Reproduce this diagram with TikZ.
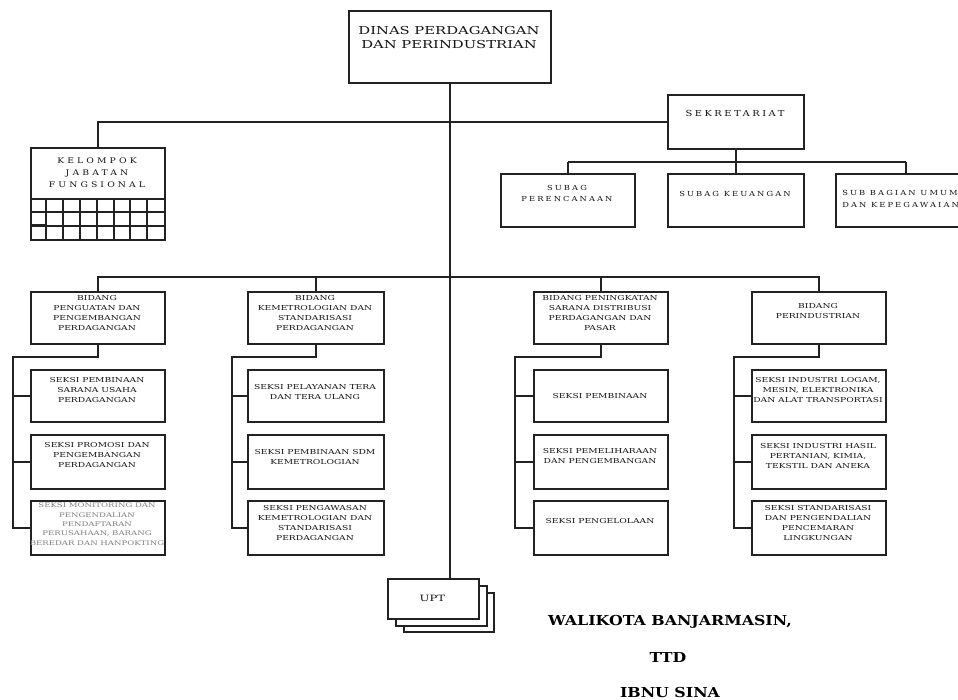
\documentclass[tikz,border=0pt]{standalone}
\usepackage{fontspec}
\setmainfont{DejaVu Serif}
\newfontfamily\fsm[FakeStretch=1.35]{DejaVu Serif}
\newfontfamily\fsp[FakeStretch=1.2,LetterSpace=30]{DejaVu Serif}
\newfontfamily\fkl[FakeStretch=1.2,LetterSpace=40]{DejaVu Serif}
\newfontfamily\fbig[FakeStretch=1.15]{DejaVu Serif}
\definecolor{linec}{HTML}{222222}
\definecolor{txtc}{HTML}{151515}
\definecolor{grayt}{HTML}{808080}
\tikzset{
  box/.style={draw=linec, line width=1.5pt, fill=white, inner sep=0pt, anchor=north west},
  txt/.style={inner sep=0pt, align=center, text=txtc, anchor=north},
  small/.style={font=\fsm\fontsize{5.1}{7.5}\selectfont},
  conn/.style={draw=linec, line width=1.5pt},
  grid/.style={draw=linec, line width=1.5pt},
}
\newcommand\mkbox[5]{\node[box, minimum width={(#4-#2)*0.75pt}, minimum height={(#5-#3)*0.75pt}] (#1) at (#2,#3) {};}
\begin{document}
\begin{tikzpicture}[x=0.75pt,y=-0.75pt]
\useasboundingbox (0,0) rectangle (958,700);
\begin{scope}
\clip (0,0) rectangle (958,700);
% top
\mkbox{top}{348}{10}{550}{82}
\node[txt, font=\fsm\fontsize{8.2}{10.5}\selectfont] (topt) at (449,26) {DINAS PERDAGANGAN\\DAN PERINDUSTRIAN};
% sekretariat
\mkbox{sek}{667}{94}{803}{148}
\node[txt, font=\fsp\fontsize{6.2}{8}\selectfont] (sekt) at (735,110) {SEKRETARIAT};
% kelompok
\mkbox{kel}{30}{147}{164}{239}
\node[txt, font=\fkl\fontsize{5.8}{9}\selectfont] (kelt) at (97,157) {KELOMPOK\\JABATAN\\FUNGSIONAL};
\foreach \yy in {199,212,226} \draw[grid] (30,\yy) -- (164,\yy);
\foreach \xx in {46,63,80,97,114,130,147} \draw[grid] (\xx,199) -- (\xx,239);
\draw[draw=linec, line width=2.25pt] (30,225.5) -- (46,225.5);
% subag
\mkbox{sb1}{500}{173}{634}{226}
\node[txt, font=\fsp\fontsize{5.2}{8.5}\selectfont] (sb1t) at (567,185) {SUBAG\\PERENCANAAN};
\mkbox{sb2}{667}{173}{803}{226}
\node[txt, font=\fsp\fontsize{5.2}{8.5}\selectfont] (sb2t) at (735,191) {SUBAG KEUANGAN};
\mkbox{sb3}{835}{173}{975}{226}
\node[txt, anchor=north west, align=left, font=\fsp\fontsize{5.2}{9}\selectfont] (sb3t) at (842,190) {SUB BAGIAN UMUM\\DAN KEPEGAWAIAN};
% bidang
\mkbox{b1}{30}{291}{164}{343}
\node[txt, small] (b1t) at (97,295) {BIDANG\\PENGUATAN DAN\\PENGEMBANGAN\\PERDAGANGAN};
\mkbox{b2}{247}{291}{383}{343}
\node[txt, small] (b2t) at (315,295) {BIDANG\\KEMETROLOGIAN DAN\\STANDARISASI\\PERDAGANGAN};
\mkbox{b3}{533}{291}{667}{343}
\node[txt, small] (b3t) at (600,295) {BIDANG PENINGKATAN\\SARANA DISTRIBUSI\\PERDAGANGAN DAN\\PASAR};
\mkbox{b4}{751}{291}{885}{343}
\node[txt, small] (b4t) at (818,303.5) {BIDANG\\PERINDUSTRIAN};
% column 1
\mkbox{c1a}{30}{369}{164}{421}
\node[txt, small] (c1at) at (97,377.5) {SEKSI PEMBINAAN\\SARANA USAHA\\PERDAGANGAN};
\mkbox{c1b}{30}{434}{164}{488}
\node[txt, small] (c1bt) at (97,442.5) {SEKSI PROMOSI DAN\\PENGEMBANGAN\\PERDAGANGAN};
\mkbox{c1c}{30}{500}{164}{554}
\node[txt, text=grayt, font=\fsm\fontsize{4.75}{7}\selectfont] (c1ct) at (97,503) {SEKSI MONITORING DAN\\PENGENDALIAN\\PENDAFTARAN\\PERUSAHAAN, BARANG\\BEREDAR DAN HANPOKTING};
% column 2
\mkbox{c2a}{247}{369}{383}{421}
\node[txt, small] (c2at) at (315,384.5) {SEKSI PELAYANAN TERA\\DAN TERA ULANG};
\mkbox{c2b}{247}{434}{383}{488}
\node[txt, small] (c2bt) at (315,449.5) {SEKSI PEMBINAAN SDM\\KEMETROLOGIAN};
\mkbox{c2c}{247}{500}{383}{554}
\node[txt, small] (c2ct) at (315,505.5) {SEKSI PENGAWASAN\\KEMETROLOGIAN DAN\\STANDARISASI\\PERDAGANGAN};
% column 3
\mkbox{c3a}{533}{369}{667}{421}
\node[txt, small] (c3at) at (600,393.5) {SEKSI PEMBINAAN};
\mkbox{c3b}{533}{434}{667}{488}
\node[txt, small] (c3bt) at (600,448.5) {SEKSI PEMELIHARAAN\\DAN PENGEMBANGAN};
\mkbox{c3c}{533}{500}{667}{554}
\node[txt, small] (c3ct) at (600,518.5) {SEKSI PENGELOLAAN};
% column 4
\mkbox{c4a}{751}{369}{885}{421}
\node[txt, small] (c4at) at (818,377.5) {SEKSI INDUSTRI LOGAM,\\MESIN, ELEKTRONIKA\\DAN ALAT TRANSPORTASI};
\mkbox{c4b}{751}{434}{885}{488}
\node[txt, small] (c4bt) at (818,443.5) {SEKSI INDUSTRI HASIL\\PERTANIAN, KIMIA,\\TEKSTIL DAN ANEKA};
\mkbox{c4c}{751}{500}{885}{554}
\node[txt, small] (c4ct) at (818,505.5) {SEKSI STANDARISASI\\DAN PENGENDALIAN\\PENCEMARAN\\LINGKUNGAN};
% UPT
\mkbox{upt3}{403}{592}{493}{631}
\mkbox{upt2}{395}{585}{486}{625}
\mkbox{upt1}{387}{578}{478}{618}
\node[txt, anchor=center, font=\fsm\fontsize{6.5}{8}\selectfont] (uptt) at (432.5,598) {UPT};
% signature
\node[txt, anchor=center, font=\fbig\bfseries\fontsize{10.3}{12}\selectfont, text=black] (wk) at (670,622) {WALIKOTA BANJARMASIN,};
\node[txt, anchor=center, font=\fbig\bfseries\fontsize{10.3}{12}\selectfont, text=black] (ttd) at (668,657) {TTD};
\node[txt, anchor=center, font=\fbig\bfseries\fontsize{10.3}{12}\selectfont, text=black] (ibnu) at (670,692) {IBNU SINA};
% connectors
\coordinate (hj) at (449,277);
\draw[conn] (top.south) -- (top.south |- upt1.north);
\draw[conn] (sek.west) -| (kel.north);
\draw[conn] (sek.south) -- ++(0,12) coordinate (sj);
\draw[conn] (sj -| sb1.north) -- (sj -| sb3.north);
\draw[conn] (sj -| sb1.north) -- (sb1.north);
\draw[conn] (sj) -- (sb2.north);
\draw[conn] (sj -| sb3.north) -- (sb3.north);
\draw[conn] (b1.north) |- (b4.north |- hj) -- (b4.north);
\draw[conn] (b2.north |- hj) -- (b2.north);
\draw[conn] (b3.north |- hj) -- (b3.north);
\coordinate (s1) at (13,357);
\coordinate (s2) at (232,357);
\coordinate (s3) at (515,357);
\coordinate (s4) at (734,357);
\foreach \i in {1,2,3,4} {
  \draw[conn] (b\i.south) |- (s\i) |- (c\i a.west);
  \draw[conn] (s\i) |- (c\i b.west);
  \draw[conn] (s\i) |- (c\i c.west);
}
\end{scope}
\end{tikzpicture}
\end{document}
